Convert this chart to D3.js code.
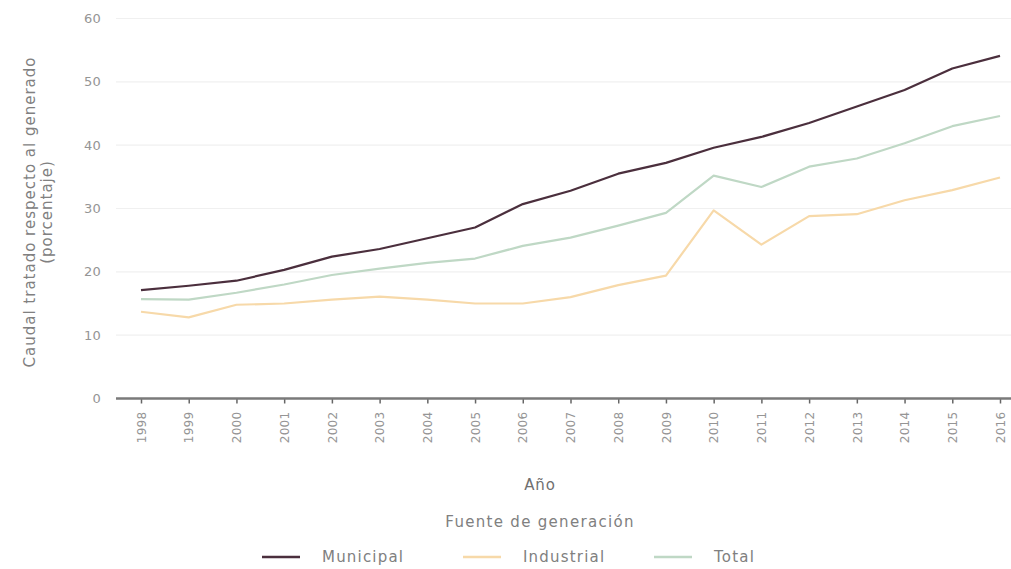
<!DOCTYPE html>
<html><head><meta charset="utf-8">
<script src="https://cdn.jsdelivr.net/npm/d3@7"></script>
<style>
body{margin:0;background:#fff;}
svg{font-family:"DejaVu Sans",sans-serif;}
</style></head>
<body><svg id="c" width="1011" height="569"></svg>
<script>
const years = ["1998","1999","2000","2001","2002","2003","2004","2005","2006","2007","2008","2009","2010","2011","2012","2013","2014","2015","2016"];
const municipal = [17.1,17.8,18.6,20.3,22.4,23.6,25.3,27.0,30.7,32.8,35.5,37.2,39.6,41.3,43.5,46.1,48.7,52.1,54.1];
const industrial = [13.7,12.8,14.8,15.0,15.6,16.1,15.6,15.0,15.0,16.0,17.9,19.4,29.7,24.3,28.8,29.1,31.3,32.9,34.9];
const total = [15.7,15.6,16.7,18.0,19.5,20.5,21.4,22.1,24.1,25.4,27.3,29.3,35.2,33.4,36.6,37.9,40.3,43.0,44.6];
const yTicks = [0,10,20,30,40,50,60];
const seriesNames = ["Municipal","Industrial","Total"];
const seriesColors = ["#4b2f3d","#f7d9a9","#bfd8c5"];

const svg = d3.select("#c");
const x = d3.scalePoint().domain(years).range([141,1000]);
const y = d3.scaleLinear().domain([0,60]).range([398.5,18.5]);
const txt = "#959595";

// gridlines
svg.append("g").selectAll("line").data(yTicks.filter(d=>d>0)).join("line")
  .attr("x1",116).attr("x2",1011).attr("y1",d=>y(d)).attr("y2",d=>y(d))
  .attr("stroke","#f0f0f0").attr("stroke-width",1.2);

// y tick labels
svg.append("g").selectAll("text").data(yTicks).join("text")
  .attr("x",101).attr("y",d=>y(d)).attr("dy","0.35em").attr("text-anchor","end")
  .attr("fill",txt).attr("font-size",13).attr("letter-spacing",0.2).text(d=>d);

// x axis
const xa = svg.append("g").attr("transform","translate(0,398.5)")
  .call(d3.axisBottom(x).tickSize(5).tickSizeOuter(0));
xa.select(".domain").remove();
xa.selectAll(".tick line").attr("stroke","#666").attr("stroke-width",1.5);
xa.selectAll(".tick text").attr("fill",txt).attr("font-size",12).attr("letter-spacing",0.3)
  .attr("font-family","DejaVu Sans")
  .attr("transform","rotate(-90)").attr("text-anchor","end")
  .attr("x",-13).attr("y",0).attr("dy","0.35em");
svg.append("line").attr("x1",116).attr("x2",1011).attr("y1",398.5).attr("y2",398.5)
  .attr("stroke","#7a7a7a").attr("stroke-width",2.5);

// lines
const lineGen = d3.line().x((d,i)=>x(years[i])).y(d=>y(d));
const data = [municipal, industrial, total];
[2,1,0].forEach(k=>{
  svg.append("path").datum(data[k]).attr("d",lineGen)
    .attr("fill","none").attr("stroke",seriesColors[k]).attr("stroke-width",2.2)
    .attr("stroke-linejoin","round");
});

// axis titles
svg.append("text").attr("transform","translate(35,212) rotate(-90)")
  .attr("text-anchor","middle").attr("fill","#808080").attr("font-size",15).attr("letter-spacing",1)
  .text("Caudal tratado respecto al generado");
svg.append("text").attr("transform","translate(52,212) rotate(-90)")
  .attr("text-anchor","middle").attr("fill","#808080").attr("font-size",15).attr("letter-spacing",1)
  .text("(porcentaje)");
svg.append("text").attr("x",540).attr("y",490).attr("text-anchor","middle")
  .attr("fill","#707070").attr("font-size",15).attr("letter-spacing",0.8).text("Año");

// legend
svg.append("text").attr("x",540).attr("y",527).attr("text-anchor","middle")
  .attr("fill","#808080").attr("font-size",15).attr("letter-spacing",1.3).text("Fuente de generación");
const legX = [262,463,654];
seriesNames.forEach((n,i)=>{
  svg.append("line").attr("x1",legX[i]).attr("x2",legX[i]+38).attr("y1",557).attr("y2",557)
    .attr("stroke",seriesColors[i]).attr("stroke-width",2.5);
  svg.append("text").attr("x",legX[i]+60).attr("y",557).attr("dy","0.35em")
    .attr("fill","#808080").attr("font-size",15).attr("letter-spacing",1.2).text(n);
});
</script></body></html>
